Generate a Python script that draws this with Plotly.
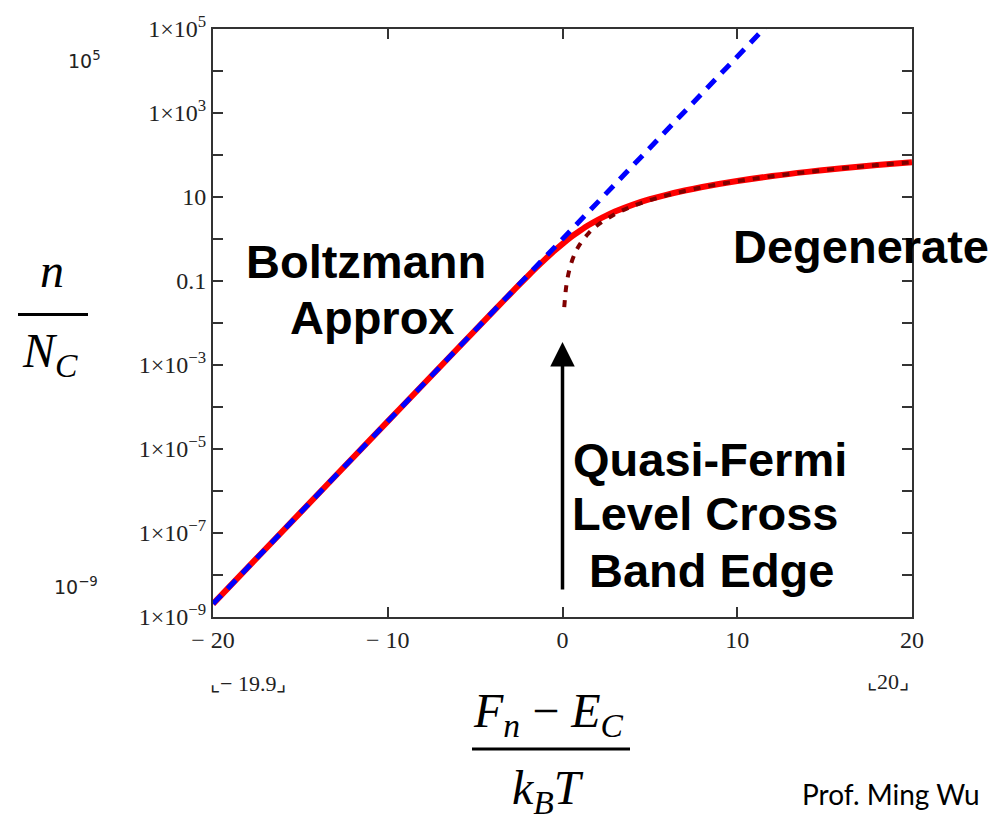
import plotly.graph_objects as go

# ---------------- data ----------------
# Boltzmann approximation (blue dashed)
boltz_x = [-20, -15, -10, -5, 0, 5, 10, 11.6]
boltz_y = [2.06e-9, 3.06e-7, 4.54e-5, 6.74e-3, 1.0, 148.4, 22026, 1.09e5]

# Full Fermi-Dirac result (red solid)
fd_x = [-20, -15, -10, -6, -4, -3, -2, -1.5, -1, -0.5, 0, 0.5, 1, 1.5, 2, 2.5,
        3, 4, 5, 6, 7, 8, 10, 12, 14, 16, 18, 20]
fd_y = [2.06e-9, 3.06e-7, 4.54e-5, 2.477e-3, 1.82e-2, 4.89e-2, 0.1293, 0.2074,
        0.3278, 0.5075, 0.7651, 1.13, 1.576, 2.15, 2.824, 3.60,
        4.488, 6.512, 8.844, 11.44, 14.28, 17.35, 24.07, 31.54, 39.66, 48.38,
        57.67, 67.5]

# Degenerate approximation (dark red dotted)
deg_x = [0.1, 0.2, 0.3, 0.5, 0.75, 1, 1.5, 2, 3, 4, 5, 6, 8, 10, 12,
         14, 16, 18, 20]
deg_y = [0.0238, 0.0673, 0.1236, 0.266, 0.489, 0.752, 1.382, 2.128,
         3.909, 6.018, 8.41, 11.06, 17.02, 23.79, 31.27, 39.41, 48.15, 57.45,
         67.29]

# tick labels
x_tickvals = [-20, -10, 0, 10, 20]
x_ticktext = ["\u2212 20", "\u2212 10", "0", "10", "20"]
y_major_exps = [5, 3, 1, -1, -3, -5, -7, -9]
y_major_text = ["1\u00d710<sup>5</sup>", "1\u00d710<sup>3</sup>", "10", "0.1",
                "1\u00d710<sup>\u22123</sup>", "1\u00d710<sup>\u22125</sup>",
                "1\u00d710<sup>\u22127</sup>", "1\u00d710<sup>\u22129</sup>"]
y_minor_exps = [4, 2, 0, -2, -4, -6, -8]

# ---------------- figure ----------------
W, H = 998, 816
L, R, T, B = 213, 912, 24, 617

fig = go.Figure()
fig.add_trace(go.Scatter(x=fd_x, y=fd_y, mode="lines",
                         line=dict(color="#ff0000", width=6, shape="spline"),
                         hoverinfo="skip"))
fig.add_trace(go.Scatter(x=boltz_x, y=boltz_y, mode="lines",
                         line=dict(color="#0000ff", width=5, dash="12px,9px"),
                         hoverinfo="skip"))
fig.add_trace(go.Scatter(x=deg_x, y=deg_y, mode="lines",
                         line=dict(color="#800000", width=4, dash="7px,8px",
                                   shape="spline"),
                         hoverinfo="skip"))

axis_col = "#333333"
tickfont = dict(family="Liberation Serif", size=24, color="#222")
fig.update_xaxes(range=[-20, 20], tickvals=x_tickvals, ticktext=x_ticktext,
                 showline=True, linecolor=axis_col, linewidth=2, mirror="ticks",
                 ticks="inside", ticklen=10, tickwidth=2, tickcolor=axis_col,
                 showgrid=False, zeroline=False, tickfont=tickfont)
fig.update_yaxes(type="log", range=[-9, 5],
                 tickvals=[10.0 ** e for e in y_major_exps],
                 ticktext=y_major_text,
                 minor=dict(tickvals=[10.0 ** e for e in y_minor_exps],
                            ticks="inside", ticklen=10, tickwidth=2,
                            tickcolor=axis_col, showgrid=False),
                 showline=True, linecolor=axis_col, linewidth=2, mirror="ticks",
                 ticks="inside", ticklen=10, tickwidth=2, tickcolor=axis_col,
                 showgrid=False, zeroline=False, tickfont=tickfont)

big = dict(family="Liberation Sans", size=47, color="black")
serif = dict(family="Liberation Serif", size=48, color="black")
small = dict(family="Liberation Serif", size=22, color="#222")
sans_small = dict(family="DejaVu Sans", size=19, color="#222")

def px(xp, yp):
    return dict(xref="paper", yref="paper", x=(xp - L) / (R - L),
                y=(B - yp) / (B - T))

anns = []
def txt(text, xp, yp, font, xanchor="center"):
    d = px(xp, yp)
    d.update(text=text, showarrow=False, font=font, xanchor=xanchor,
             yanchor="middle")
    anns.append(d)

txt("<b>Boltzmann</b>", 366, 258, big)
txt("<b>Approx</b>", 372, 315, big)
txt("<b>Degenerate</b>", 861, 243, big)
txt("<b>Quasi-Fermi</b>", 710, 458, big)
txt("<b>Level Cross</b>", 705, 513, big)
txt("<b>Band Edge</b>", 711, 570, big)

# y-axis label fraction
txt("<i>n</i>", 52, 268, serif)
txt("<i>N</i><sub><i>C</i></sub>", 50, 352, serif)
# x-axis label fraction
txt("<i>F</i><sub><i>n</i></sub> \u2212 <i>E</i><sub><i>C</i></sub>", 548, 715, serif)
txt("<i>k</i><sub><i>B</i></sub><i>T</i>", 548, 792, serif)

txt("10<sup>5</sup>", 66, 55, sans_small, xanchor="left")
txt("10<sup>\u22129</sup>", 52, 586, sans_small, xanchor="left")
txt("\u231e\u2212 19.9\u231f", 248, 684, small)
txt("\u231e20\u231f", 888, 682, small)

txt("Prof. Ming Wu", 891, 796, dict(family="Lato", size=28, color="black"))

# arrow at x = 0
anns.append(dict(x=0, y=-2.45, xref="x", yref="y", ax=0, ay=-8.38,
                 axref="x", ayref="y", showarrow=True, arrowhead=2,
                 arrowsize=1.4, arrowwidth=3.5, arrowcolor="black", text=""))

fig.update_layout(
    width=W, height=H, autosize=False,
    margin=dict(l=L, r=W - R, t=T, b=H - B, pad=0),
    paper_bgcolor="white", plot_bgcolor="white",
    showlegend=False, annotations=anns,
    shapes=[
        dict(type="line", xref="paper", yref="paper",
             x0=(18 - L) / (R - L), x1=(88 - L) / (R - L),
             y0=(B - 312) / (B - T), y1=(B - 312) / (B - T),
             line=dict(color="black", width=3)),
        dict(type="line", xref="paper", yref="paper",
             x0=(472 - L) / (R - L), x1=(630 - L) / (R - L),
             y0=(B - 750) / (B - T), y1=(B - 750) / (B - T),
             line=dict(color="black", width=3)),
    ],
)

fig.write_html("out.html", config={"displayModeBar": False},
               post_script="document.body.style.margin='0';"
                           "document.body.style.overflow='hidden';")
